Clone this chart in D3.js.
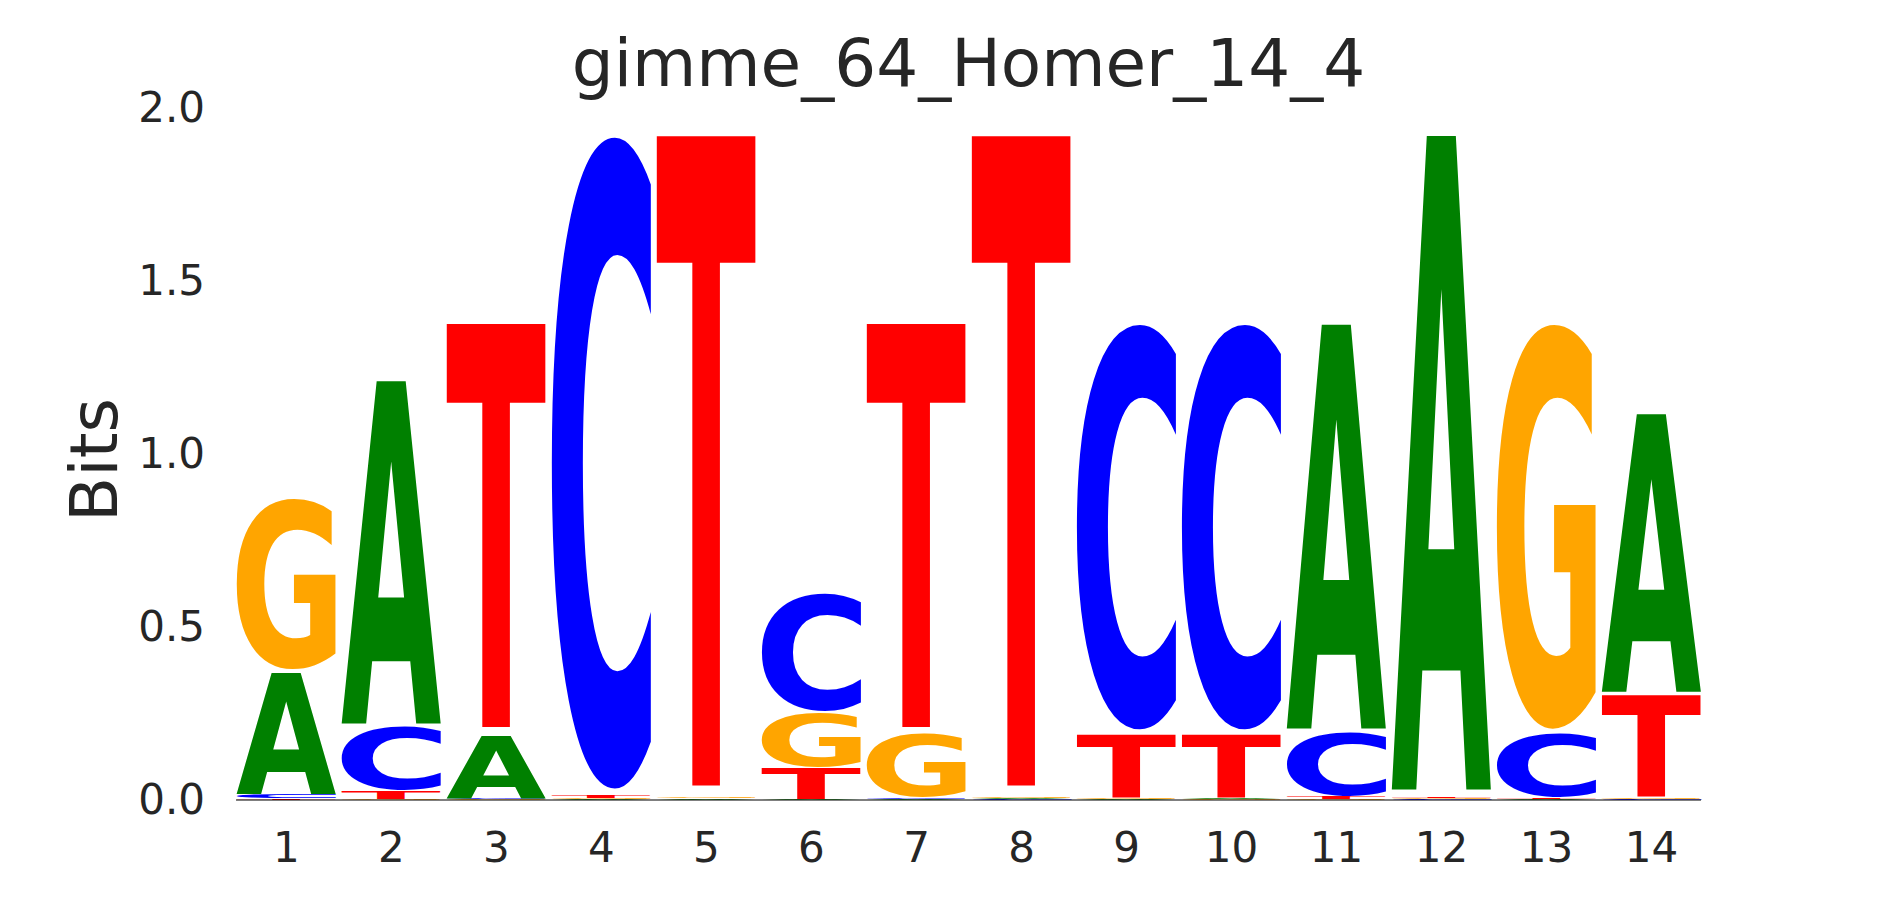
<!DOCTYPE html>
<html>
<head>
<meta charset="utf-8">
<script src="https://cdn.jsdelivr.net/npm/d3@7"></script>
<style>
  html, body { margin: 0; padding: 0; background: #ffffff; }
  svg { display: block; }
</style>
</head>
<body>
<svg id="chart" width="1890" height="900"></svg>
<script>
// ---------------- data ----------------
const title = "gimme_64_Homer_14_4";
const yLabel = "Bits";
const positions = [1, 2, 3, 4, 5, 6, 7, 8, 9, 10, 11, 12, 13, 14];
const bases = ["A", "C", "G", "T"];
const baseColors = ["#008000", "#0000ff", "#ffa500", "#ff0000"];
// information (bits) per base and position
const valuesA = [0.357, 1.011, 0.186, 0.002, 0.004, 0.002, 0.002, 0.003, 0.002, 0.003, 1.192, 1.930, 0.002, 0.820];
const valuesC = [0.010, 0.186, 0.003, 1.928, 0.001, 0.348, 0.003, 0.002, 1.198, 1.198, 0.186, 0.002, 0.186, 0.002];
const valuesG = [0.504, 0.003, 0.002, 0.004, 0.005, 0.159, 0.186, 0.005, 0.003, 0.002, 0.003, 0.004, 1.196, 0.0025];
const valuesT = [0.005, 0.022, 1.198, 0.006, 1.930, 0.092, 1.198, 1.930, 0.186, 0.186, 0.006, 0.005, 0.005, 0.300];
const yTicks = [0.0, 0.5, 1.0, 1.5, 2.0];
const xTickLabels = ["1", "2", "3", "4", "5", "6", "7", "8", "9", "10", "11", "12", "13", "14"];

// ---------------- layout ----------------
const svg = d3.select("#chart");
const textColor = "#262626";
const fontFamily = "'DejaVu Sans', 'Liberation Sans', sans-serif";

const x = d3.scaleLinear().domain([0.5, 14.5]).range([233.4, 1703.6]);
const y = d3.scaleLinear().domain([0, 2]).range([800, 108]);
const letterWidth = 0.95 * (x(2) - x(1));
const vpad = 0.02;

const seriesByBase = { A: valuesA, C: valuesC, G: valuesG, T: valuesT };
const colorByBase = {};
bases.forEach((b, i) => colorByBase[b] = baseColors[i]);

// measure glyph ink bounds
const canvas = document.createElement("canvas");
const ctx = canvas.getContext("2d");
const glyphSize = 200;
ctx.font = `bold ${glyphSize}px 'DejaVu Sans'`;
const ink = {};
bases.forEach(b => {
  const m = ctx.measureText(b);
  ink[b] = {
    l: m.actualBoundingBoxLeft, r: m.actualBoundingBoxRight,
    a: m.actualBoundingBoxAscent, d: m.actualBoundingBoxDescent
  };
});

// build stacked glyph list
const glyphs = [];
positions.forEach((p, i) => {
  const col = bases.map(b => ({ base: b, value: seriesByBase[b][i] }))
    .sort((u, v) => u.value - v.value);
  let cum = 0;
  col.forEach(c => {
    glyphs.push({ pos: p, base: c.base, y0: cum, y1: cum + c.value });
    cum += c.value;
  });
});

const gLetters = svg.append("g").attr("class", "letters");
gLetters.selectAll("text")
  .data(glyphs)
  .join("text")
  .attr("x", 0).attr("y", 0)
  .attr("font-family", "'DejaVu Sans'")
  .attr("font-weight", "bold")
  .attr("font-size", glyphSize)
  .attr("fill", d => colorByBase[d.base])
  .attr("transform", d => {
    const m = ink[d.base];
    const inkW = m.l + m.r, inkH = m.a + m.d;
    const yb = y(d.y0), yt = y(d.y1);
    const h = yb - yt;
    const pad = vpad / 2 * h;
    const rx = x(d.pos) - letterWidth / 2;
    const ry = yt + pad;
    const rh = Math.max(h - 2 * pad, 0.0001);
    return `translate(${rx},${ry}) scale(${letterWidth / inkW},${rh / inkH}) translate(${m.l},${m.a})`;
  })
  .text(d => d.base);

// baseline
svg.append("line")
  .attr("x1", x(0.525)).attr("x2", x(14.475))
  .attr("y1", y(0)).attr("y2", y(0))
  .attr("stroke", "#000").attr("stroke-width", 1.2);

// y axis
const yAxis = svg.append("g")
  .attr("transform", `translate(${x(0.525)},0)`)
  .call(d3.axisLeft(y).tickValues(yTicks).tickFormat(d3.format(".1f")).tickSize(0).tickPadding(31));
yAxis.select(".domain").remove();
yAxis.selectAll("text")
  .attr("font-family", fontFamily).attr("font-size", 42).attr("fill", textColor);

// x axis
const xAxis = svg.append("g")
  .attr("transform", `translate(0,${y(0)})`)
  .call(d3.axisBottom(x).tickValues(positions).tickFormat((d, i) => xTickLabels[i]).tickSize(0).tickPadding(32));
xAxis.select(".domain").remove();
xAxis.selectAll("text")
  .attr("font-family", fontFamily).attr("font-size", 42).attr("fill", textColor);

// title
svg.append("text")
  .attr("x", (x(0.525) + x(14.475)) / 2).attr("y", 86)
  .attr("text-anchor", "middle")
  .attr("font-family", fontFamily).attr("font-size", 66).attr("fill", textColor)
  .text(title);

// y label
svg.append("text")
  .attr("transform", `translate(117,460) rotate(-90)`)
  .attr("text-anchor", "middle")
  .attr("font-family", fontFamily).attr("font-size", 66).attr("fill", textColor)
  .text(yLabel);
</script>
</body>
</html>
